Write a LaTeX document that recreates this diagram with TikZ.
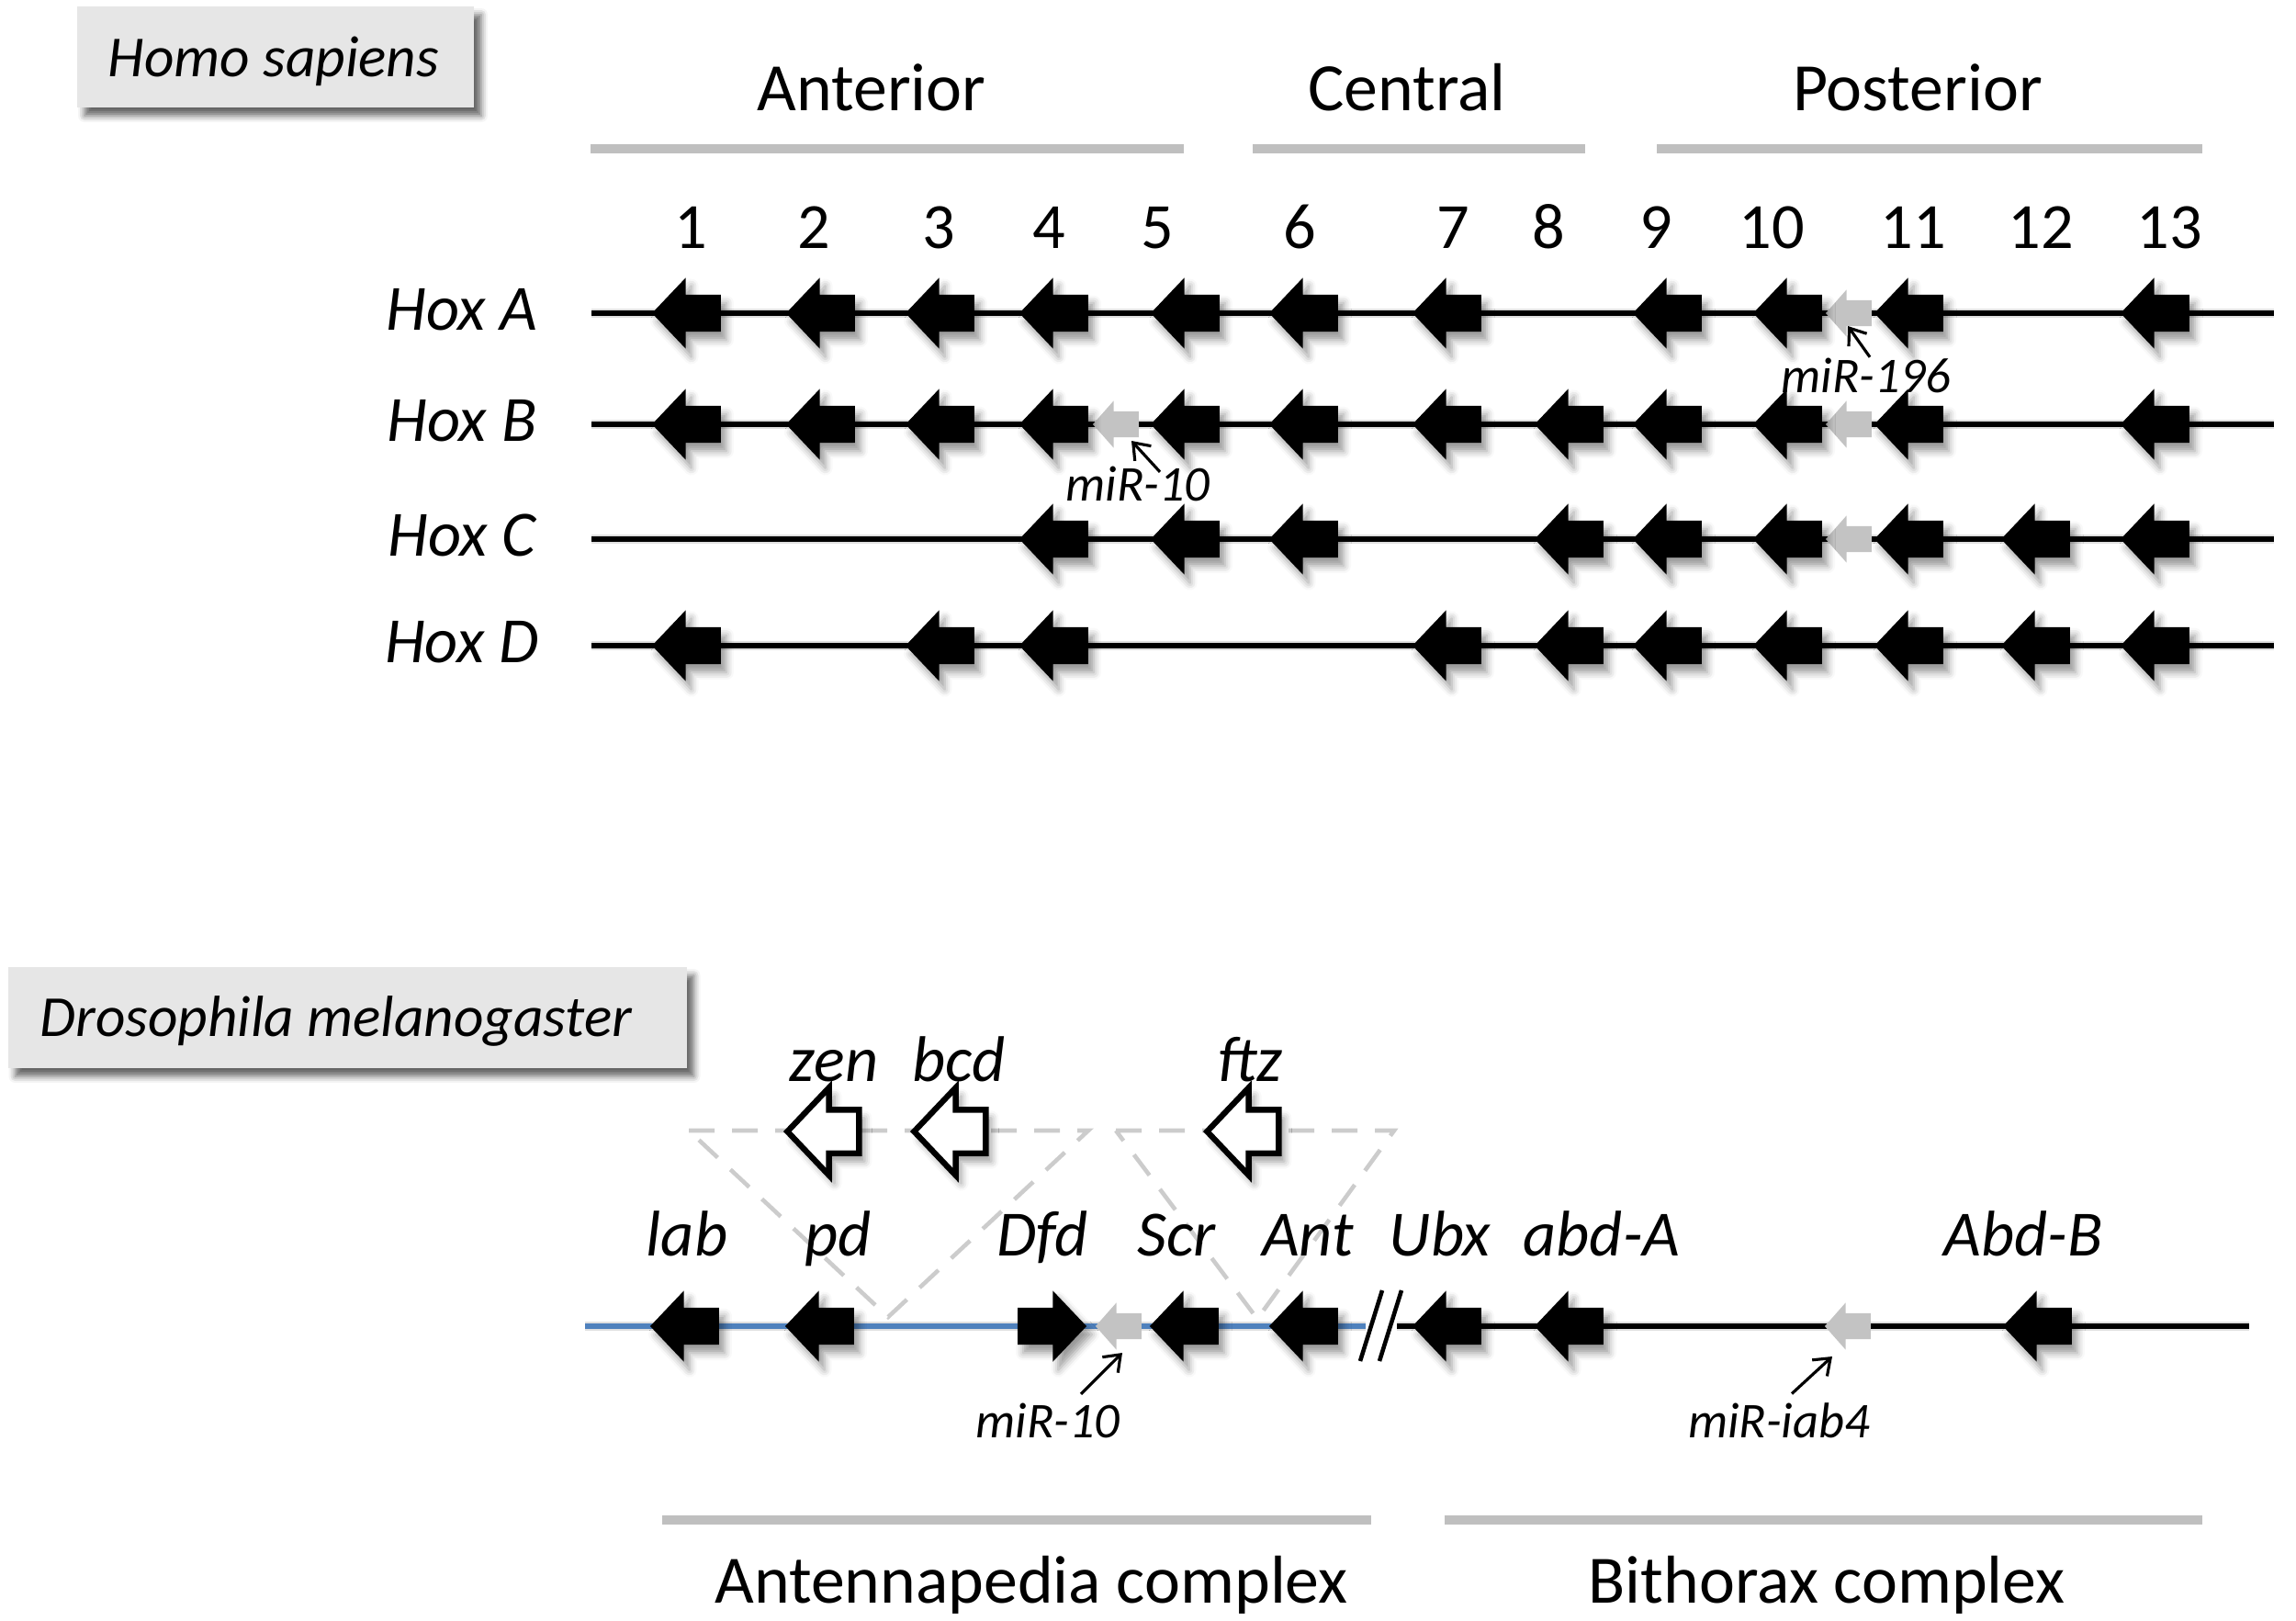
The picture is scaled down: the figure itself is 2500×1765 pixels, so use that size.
\documentclass[tikz,border=0pt]{standalone}
\usepackage{fontspec}
\setmainfont{Carlito}
\usetikzlibrary{shapes.arrows, shadows, shadows.blur, arrows.meta, calc}
\definecolor{bargray}{HTML}{BFBFBF}
\definecolor{mirgray}{HTML}{C3C3C3}
\definecolor{boxgray}{HTML}{E6E6E6}
\definecolor{dashgray}{HTML}{CCCCCC}
\definecolor{flyblue}{HTML}{4F81BD}
\tikzset{
  geneshape/.style = {single arrow, draw=none, inner xsep=0pt, inner ysep=1.95mm, anchor=tip, shape border rotate=180,
    minimum height=7.5mm, single arrow head extend=1.85mm, single arrow tip angle=93},
  gene/.style = {geneshape, fill=black, blur shadow={shadow xshift=0.6mm, shadow yshift=-0.9mm, shadow blur radius=0.8mm, shadow opacity=40}},
  generight/.style = {gene, shape border rotate=0},
  mirna/.style = {geneshape, fill=mirgray, minimum height=5mm, inner ysep=1.35mm, single arrow head extend=1.15mm, single arrow tip angle=97},
  hollow/.style = {geneshape, fill=white, draw=black, line width=1.8pt, minimum height=7.8mm, inner ysep=2.05mm,
    single arrow head extend=2.4mm, blur shadow={shadow xshift=0.6mm, shadow yshift=-0.9mm, shadow blur radius=0.8mm, shadow opacity=40}},
  chrom/.style = {line width=1.6pt, black},
  chromshadow/.style = {line width=3pt, black!12, yshift=-0.9mm, xshift=0.3mm},
  bar/.style = {line width=2.9pt, bargray},
  gname/.style = {font=\fontsize{20}{24}\selectfont\itshape, inner sep=0pt, anchor=base},
  num/.style = {font=\fontsize{20}{24}\selectfont, inner sep=0pt, anchor=base},
  region/.style = {font=\fontsize{21}{25}\selectfont, inner sep=0pt, anchor=base},
  mirlabel/.style = {font=\fontsize{15.5}{18}\selectfont\itshape, inner sep=0pt, anchor=base},
  species/.style = {font=\fontsize{18}{22}\selectfont\itshape, inner sep=0pt, anchor=base},
  speciesbox/.style = {fill=boxgray, inner sep=0pt, minimum height=11mm,
    blur shadow={shadow xshift=0.8mm, shadow yshift=-0.9mm, shadow blur radius=0.7mm, shadow opacity=60}},
  mirpoint/.style = {line width=0.9pt, -{Straight Barb[length=1.6mm, width=2.4mm]}},
  loopout/.style = {dashgray, line width=1.3pt, dash pattern=on 2.8mm off 1.9mm},
  breakmark/.style = {line width=1.3pt, black}
}
\begin{document}
\begin{tikzpicture}[x=0.1mm, y=-0.1mm]
\useasboundingbox (0,0) rectangle (2500,1765);

% --- Homo sapiens ---
\node[speciesbox, minimum width=43.2mm] (hsbox) at (300,62) {};
\node[species] (hs) at (298,83) {Homo sapiens};

\node[region] (ant) at (949,120) {Anterior};
\node[region] (cen) at (1532,120) {Central};
\node[region] (pos) at (2088,120) {Posterior};
\draw[bar] (643,162) -- (1289,162);
\draw[bar] (1364,162) -- (1726,162);
\draw[bar] (1804,162) -- (2398,162);

\foreach \x/\n in {752/1, 886/2, 1022/3, 1142/4, 1260/5, 1415/6, 1582/7, 1686/8, 1803/9, 1929/10, 2083/11, 2222/12, 2362/13}
  \node[num] (n\n) at (\x,270) {\n};

\foreach \y/\r in {341/A, 462/B, 587/C, 703/D} {
  \coordinate (\r-start) at (644,\y);
  \coordinate (\r-end) at (2476,\y);
  \draw[chromshadow] (\r-start) -- (\r-end);
  \draw[chrom] (\r-start) -- (\r-end);
  \node[gname] (lbl\r) at (503,\y+18) {Hox \r};
}

% microRNAs
\node[mirna] (Amir196) at (1987,341) {};
\node[mirna] (Bmir10) at (1189,462) {};
\node[mirna] (Bmir196) at (1987,462) {};
\node[mirna] (Cmir196) at (1987,587) {};

% paralogue columns
\foreach \x/\n in {709/1, 855/2, 985/3, 1109/4, 1252/5, 1381/6, 1537/7, 1777/9, 1908/10, 2040/11, 2308/13}
  \node[gene] (A\n) at (\x,341) {};
\foreach \x/\n in {709/1, 855/2, 985/3, 1109/4, 1252/5, 1381/6, 1537/7, 1670/8, 1777/9, 1908/10, 2040/11, 2308/13}
  \node[gene] (B\n) at (\x,462) {};
\foreach \x/\n in {1109/4, 1252/5, 1381/6, 1670/8, 1777/9, 1908/10, 2040/11, 2178/12, 2308/13}
  \node[gene] (C\n) at (\x,587) {};
\foreach \x/\n in {709/1, 985/3, 1109/4, 1537/7, 1670/8, 1777/9, 1908/10, 2040/11, 2178/12, 2308/13}
  \node[gene] (D\n) at (\x,703) {};

\node[mirlabel] (m196) at (2032,427) {miR-196};
\node[mirlabel] (m10h) at (1239,545) {miR-10};
\draw[mirpoint] ([xshift=0.4mm]m196.north) -- ($(Amir196.tip)+(25,14)$);
\draw[mirpoint] ($(m10h.north)+(24,7)$) -- ($(Bmir10.tip)+(43,18)$);

% --- Drosophila melanogaster ---
\node[speciesbox, minimum width=73.9mm] (dmbox) at (378,1108) {};
\node[species] (dm) at (366,1128) {Drosophila melanogaster};

\coordinate (fly-start) at (637,1444);
\coordinate (fly-cut) at (1487,1444);
\coordinate (fly-resume) at (1521,1444);
\coordinate (fly-end) at (2449,1444);
\draw[chromshadow] (fly-start) -- (fly-cut);
\draw[chromshadow] (fly-resume) -- (fly-end);
\draw[chrom, flyblue] (fly-start) -- (fly-cut);
\draw[chrom] (fly-resume) -- (fly-end);
\draw[breakmark] (1505,1405) -- (1481,1482);
\draw[breakmark] (1526,1405) -- (1502,1482);

% inserted genes
\draw[loopout] (750,1231) -- (1185,1231) -- (967,1434) -- cycle;
\draw[loopout] (1215,1231) -- (1518,1231) -- (1369,1436) -- cycle;
\node[hollow] (zen) at (853,1232) {};
\node[hollow] (bcd) at (991,1232) {};
\node[hollow] (ftz) at (1310,1232) {};
\node[gname] (tzen) at (908,1177) {zen};
\node[gname] (tbcd) at (1044,1177) {bcd};
\node[gname] (tftz) at (1361,1177) {ftz};

\node[mirna] (dmir10) at (1192,1444) {};
\node[mirna] (dmiab4) at (1986,1444) {};
\node[gene] (lab) at (707,1444) {};
\node[gene] (pd) at (854,1444) {};
\node[generight] (Dfd) at (1184,1444) {};
\node[gene] (Scr) at (1251,1444) {};
\node[gene] (Ant) at (1381,1444) {};
\node[gene] (Ubx) at (1537,1444) {};
\node[gene] (abdA) at (1670,1444) {};
\node[gene] (AbdB) at (2180,1444) {};

\foreach \x/\t in {748/lab, 913/pd, 1135/Dfd, 1281/Scr, 1424/Ant, 1568/Ubx, 1744/abd-A, 2203/Abd-B}
  \node[gname] (t\t) at (\x,1367) {\t};

\node[mirlabel] (m10d) at (1141,1565) {miR-10};
\node[mirlabel] (miab4) at (1937,1565) {miR-iab4};
\draw[mirpoint] ($(m10d.north)+(36,-9)$) -- ($(dmir10.tip)+(30,29)$);
\draw[mirpoint] ($(miab4.north)+(14,-9)$) -- ($(dmiab4.tip)+(9,33)$);

\draw[bar] (721,1655) -- (1493,1655);
\draw[bar] (1573,1655) -- (2398,1655);
\node[region] (antc) at (1123,1745) {Antennapedia complex};
\node[region] (bxc) at (1989,1745) {Bithorax complex};
\end{tikzpicture}
\end{document}
